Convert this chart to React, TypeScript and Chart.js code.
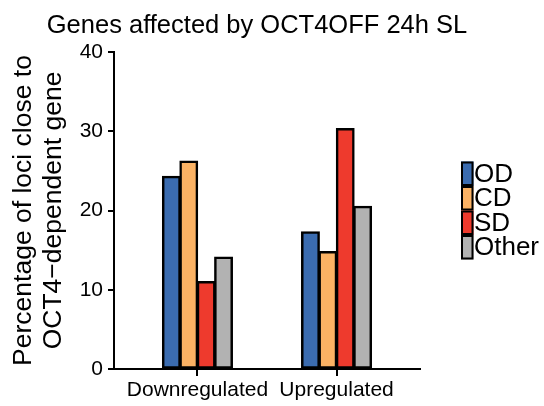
import React, { useEffect, useRef } from "react";
import { Chart, registerables } from "chart.js";

Chart.register(...registerables);

const categories = ["Downregulated", "Upregulated"];
const seriesNames = ["OD", "CD", "SD", "Other"];
const odValues = [24.3, 17.3];
const cdValues = [26.2, 14.8];
const sdValues = [11.0, 30.3];
const otherValues = [14.1, 20.5];
const seriesColors = ["#3B6CB0", "#FBB264", "#EE3A2D", "#B2B2B2"];
const yTicks = [0, 10, 20, 30, 40];
const titleText = "Genes affected by OCT4OFF 24h SL";
const yTitleLines = ["Percentage of loci close to", "OCT4\u2212dependent gene"];

const FONT = "'Liberation Sans', Arial, Helvetica, sans-serif";

const legendPlugin = {
  id: "customLegend",
  afterDraw(chart: any) {
    const { ctx, chartArea } = chart;
    const ds = chart.data.datasets;
    const rowH = 24.5;
    const boxW = 12.5;
    const x0 = chartArea.right + 41;
    const y0 = (chartArea.top + chartArea.bottom) / 2 - (ds.length * rowH) / 2;
    ctx.save();
    ds.forEach((d: any, i: number) => {
      const y = y0 + i * rowH;
      ctx.fillStyle = d.backgroundColor;
      ctx.fillRect(x0, y, boxW, rowH);
      ctx.strokeStyle = "#000";
      ctx.lineWidth = 2;
      ctx.strokeRect(x0 + 1, y + 1, boxW - 2, rowH - 2);
      ctx.fillStyle = "#000";
      ctx.font = `26px ${FONT}`;
      ctx.textBaseline = "middle";
      ctx.textAlign = "left";
      ctx.fillText(d.label, x0 + boxW + 0.5, y + rowH / 2 + 1);
    });
    ctx.restore();
  },
};

const titlePlugin = {
  id: "customTitle",
  afterDraw(chart: any) {
    const { ctx } = chart;
    ctx.save();
    ctx.fillStyle = "#000";
    ctx.font = `25.5px ${FONT}`;
    ctx.textAlign = "center";
    ctx.textBaseline = "alphabetic";
    ctx.fillText(titleText, 257, 33);
    ctx.restore();
  },
};

export default function App() {
  const ref = useRef<HTMLCanvasElement | null>(null);
  useEffect(() => {
    if (!ref.current) return;
    const values = [odValues, cdValues, sdValues, otherValues];
    const chart = new Chart(ref.current, {
      type: "bar",
      data: {
        labels: categories,
        datasets: seriesNames.map((name, i) => ({
          label: name,
          data: values[i],
          backgroundColor: seriesColors[i],
          borderColor: "#000",
          borderWidth: 2.5,
          borderSkipped: false,
          categoryPercentage: 0.5,
          barPercentage: 1.0,
          inflateAmount: 0.75,
        })),
      },
      options: {
        animation: false,
        responsive: false,
        maintainAspectRatio: false,
        layout: { padding: { top: 52, right: 124, left: 0, bottom: 0 } },
        plugins: {
          legend: { display: false },
          title: { display: false },
          tooltip: { enabled: false },
        },
        scales: {
          x: {
            type: "category",
            offset: false,
            afterBuildTicks: (scale: any) => {
              scale._startValue = -0.6;
              scale._valueRange = 2.2;
            },
            afterFit: (scale: any) => {
              scale.height = 37;
            },
            border: { display: true, color: "#000", width: 2 },
            grid: {
              display: true,
              offset: false,
              drawOnChartArea: false,
              drawTicks: true,
              tickLength: 7,
              color: "#000",
              lineWidth: 2,
            },
            ticks: {
              color: "#000",
              font: { family: FONT, size: 21 },
              padding: 2,
              maxRotation: 0,
            },
          },
          y: {
            min: 0,
            max: 40,
            afterBuildTicks: (scale: any) => {
              scale.ticks = yTicks.map((v) => ({ value: v }));
            },
            afterFit: (scale: any) => {
              scale.width = 114;
            },
            border: { display: true, color: "#000", width: 2 },
            grid: {
              display: true,
              drawOnChartArea: false,
              drawTicks: true,
              tickLength: 6,
              color: "#000",
              lineWidth: 2,
            },
            ticks: {
              color: "#000",
              font: { family: FONT, size: 21 },
              padding: 5,
            },
            title: {
              display: true,
              text: yTitleLines,
              color: "#000",
              font: { family: FONT, size: 26.5, lineHeight: 1.1 },
              padding: { top: 9.5, bottom: 0 },
            },
          },
        },
      },
      plugins: [legendPlugin, titlePlugin],
    });
    return () => chart.destroy();
  }, []);
  return (
    <div style={{ position: "fixed", left: 0, top: 0, width: 544, height: 406, background: "#fff" }}>
      <canvas ref={ref} width={544} height={406} style={{ display: "block" }} />
    </div>
  );
}
